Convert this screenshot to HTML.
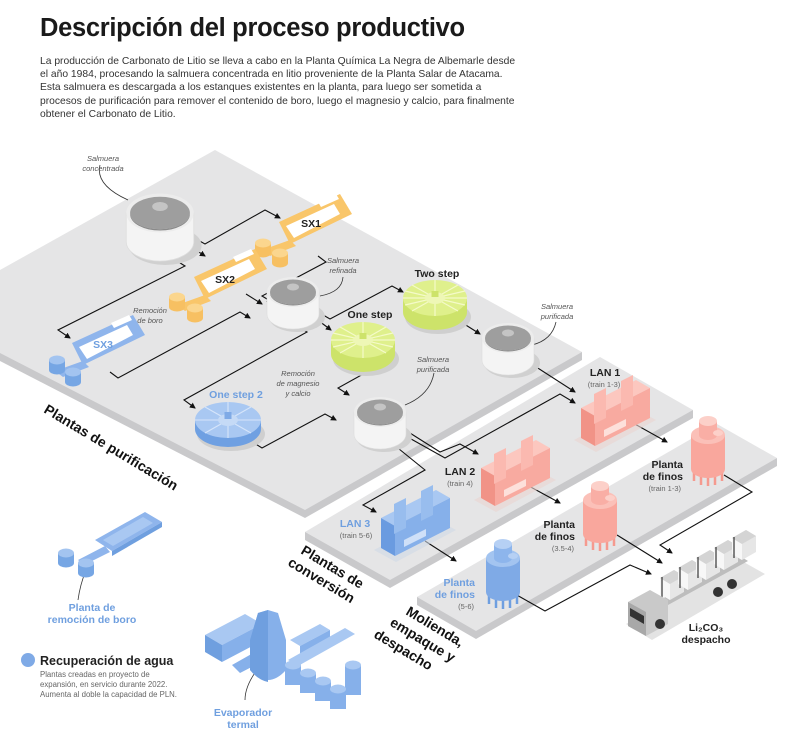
<!DOCTYPE html>
<html><head><meta charset="utf-8"><style>
html,body{margin:0;padding:0;background:#fff;}
body{width:800px;height:748px;overflow:hidden;position:relative;font-family:"Liberation Sans",sans-serif;}
h1{position:absolute;left:40px;top:14px;margin:0;font-size:25.5px;font-weight:bold;color:#1a1a1a;letter-spacing:-0.3px;}
p.intro{position:absolute;left:40px;top:55px;margin:0;width:480px;font-size:10.3px;line-height:13.2px;color:#333;}
svg{position:absolute;left:0;top:0;}
</style></head><body>
<svg width="800" height="748" viewBox="0 0 800 748" font-family="Liberation Sans, sans-serif">
<defs>
<marker id="ar" markerWidth="6" markerHeight="6" refX="5" refY="3" orient="auto" markerUnits="userSpaceOnUse"><path d="M0,0 L6,3 L0,6 Z" fill="#111"/></marker>
<g id="tank">
 <ellipse cx="4" cy="25" rx="28" ry="15" fill="#d0d0d0"/>
 <path d="M-26,0 L-26,22 A26 15 0 0 0 26,22 L26,0 Z" fill="#f4f4f4" stroke="#ddd" stroke-width="0.6"/>
 <ellipse cx="0" cy="0" rx="26" ry="15" fill="#ececec"/>
 <ellipse cx="0" cy="0" rx="23" ry="12.5" fill="#9e9e9e"/>
 <path d="M-23,1 A23 12.5 0 0 0 23,1 L23,0 A23 12.5 0 0 1 -23,0Z" fill="#8a8a8a"/>
 <ellipse cx="0" cy="-5" rx="6" ry="3.5" fill="#c4c4c4"/>
</g>
<g id="discG">
 <ellipse cx="3" cy="19" rx="33" ry="17" fill="#cfcfcf"/>
 <path d="M-32,0 L-32,14 A32 18 0 0 0 32,14 L32,0 Z" fill="#cde36a"/>
 <ellipse cx="0" cy="0" rx="32" ry="18" fill="#dff08c"/>
 <g stroke="#f4fac9" stroke-width="1.2"><line x1="-32" y1="0" x2="32" y2="0"/><line x1="0" y1="-18" x2="0" y2="18"/><line x1="-23" y1="-13" x2="23" y2="13"/><line x1="23" y1="-13" x2="-23" y2="13"/><line x1="-30" y1="-7" x2="30" y2="7"/><line x1="30" y1="-7" x2="-30" y2="7"/></g>
 <ellipse cx="0" cy="0" rx="10" ry="6" fill="#eef7b6"/>
 <rect x="-3.5" y="-7" width="7" height="6" fill="#cde36a"/>
</g>
<g id="lanP">
 <path d="M-2,54 L58,22 L80,34 L20,66 Z" fill="#e9d3d0" opacity="0.6"/>
 <path d="M5,22 L60,-6 L74,2 L19,30 Z" fill="#fcc7bf"/>
 <path d="M19,30 L74,2 L74,32 L19,60 Z" fill="#f8aaa0"/>
 <path d="M5,22 L19,30 L19,60 L5,52 Z" fill="#f19387"/>
 <path d="M18,8 L30,2 L30,32 L18,38Z M45,-5 L57,-11 L57,19 L45,25Z" fill="#fbb9b0"/>
 <path d="M28,44 L50,33 L50,40 L28,51Z" fill="#fde0db"/>
</g>
<g id="lanB">
 <path d="M-2,54 L58,22 L80,34 L20,66 Z" fill="#cfd8e6" opacity="0.6"/>
 <path d="M5,22 L60,-6 L74,2 L19,30 Z" fill="#a9c8f2"/>
 <path d="M19,30 L74,2 L74,32 L19,60 Z" fill="#86b0ea"/>
 <path d="M5,22 L19,30 L19,60 L5,52 Z" fill="#6a9be0"/>
 <path d="M18,8 L30,2 L30,32 L18,38Z M45,-5 L57,-11 L57,19 L45,25Z" fill="#98bdee"/>
 <path d="M28,44 L50,33 L50,40 L28,51Z" fill="#cfe0f8"/>
</g>
<g id="finP">
 <g stroke="#f59a8f" stroke-width="2.5"><line x1="-14" y1="36" x2="-14" y2="46"/><line x1="-7" y1="40" x2="-7" y2="50"/><line x1="0" y1="41" x2="0" y2="51"/><line x1="7" y1="40" x2="7" y2="50"/><line x1="14" y1="36" x2="14" y2="46"/></g>
 <path d="M-17,0 L-17,34 A17 9 0 0 0 17,34 L17,0 Z" fill="#f9a79d"/>
 <ellipse cx="0" cy="0" rx="17" ry="9" fill="#fbc0b8"/>
 <path d="M-9,-14 L-9,0 A9 5 0 0 0 9,0 L9,-14Z" fill="#f9aea5"/>
 <ellipse cx="0" cy="-14" rx="9" ry="5" fill="#fcd0c9"/>
 <ellipse cx="10" cy="-2" rx="5" ry="3" fill="#fcd0c9"/>
</g>
<g id="finB">
 <g stroke="#6f9fe0" stroke-width="2.5"><line x1="-14" y1="36" x2="-14" y2="46"/><line x1="-7" y1="40" x2="-7" y2="50"/><line x1="0" y1="41" x2="0" y2="51"/><line x1="7" y1="40" x2="7" y2="50"/><line x1="14" y1="36" x2="14" y2="46"/></g>
 <path d="M-17,0 L-17,34 A17 9 0 0 0 17,34 L17,0 Z" fill="#7faae6"/>
 <ellipse cx="0" cy="0" rx="17" ry="9" fill="#a3c4f0"/>
 <path d="M-9,-14 L-9,0 A9 5 0 0 0 9,0 L9,-14Z" fill="#8db5ec"/>
 <ellipse cx="0" cy="-14" rx="9" ry="5" fill="#b6d0f4"/>
 <ellipse cx="10" cy="-2" rx="5" ry="3" fill="#b6d0f4"/>
</g>
<g id="cylO"><path d="M-8,0 L-8,10 A8 4.5 0 0 0 8,10 L8,0Z" fill="#f7c062"/><ellipse cx="0" cy="0" rx="8" ry="4.5" fill="#fbd68e"/></g>
<g id="cylB"><path d="M-8,0 L-8,10 A8 4.5 0 0 0 8,10 L8,0Z" fill="#76a6e4"/><ellipse cx="0" cy="0" rx="8" ry="4.5" fill="#a3c4f0"/></g>
<g id="cont"><path d="M0,0 L14,-8 L24,-2 L24,14 L10,22 L0,16Z" fill="#e6e6e6"/><path d="M0,0 L10,6 L10,22 L0,16Z" fill="#f7f7f7"/><path d="M0,0 L14,-8 L24,-2 L10,6Z" fill="#d4d4d4"/><path d="M2,-1 L2,20" stroke="#333" stroke-width="1.2"/></g>
</defs>

<!-- platforms -->
<path d="M0,353 L0,361 L305,518 L582,360 L582,352 Z" fill="#c9c9cb"/>
<path d="M215,150 L582,352 L305,510 L0,353 L0,270 Z" fill="#e5e5e6"/>
<path d="M305,532 L305,540 L390,588 L693,418 L693,410 Z" fill="#c9c9cb"/>
<path d="M600,357 L693,410 L390,580 L305,532 Z" fill="#e5e5e6"/>
<path d="M417,597 L417,605 L476,639 L777,466 L777,458 Z" fill="#c9c9cb"/>
<path d="M717,424 L777,458 L476,631 L417,597 Z" fill="#e5e5e6"/>

<!-- connectors -->
<g fill="none" stroke="#111" stroke-width="1.1">
<path d="M187,234 L205,244 L265,210 L280,218" marker-end="url(#ar)"/>
<path d="M180,240 L205,256" marker-end="url(#ar)"/>
<path d="M172,258 L185,266 L58,330 L70,338" marker-end="url(#ar)"/>
<path d="M318,256 L326,262 L262,296 L272,302" marker-end="url(#ar)"/>
<path d="M246,294 L262,304" marker-end="url(#ar)"/>
<path d="M110,372 L118,378 L240,312 L250,318" marker-end="url(#ar)"/>
<path d="M318,312 L330,319 L392,286 L403,292" marker-end="url(#ar)"/>
<path d="M315,318 L331,330" marker-end="url(#ar)"/>
<path d="M300,328 L307,332 L184,400 L195,408" marker-end="url(#ar)"/>
<path d="M386,352 L394,357 L338,388 L349,395" marker-end="url(#ar)"/>
<path d="M254,443 L262,448 L325,414 L336,420" marker-end="url(#ar)"/>
<path d="M461,322 L480,334" marker-end="url(#ar)"/>
<path d="M530,363 L575,392" marker-end="url(#ar)"/>
<path d="M395,430 L445,458 L560,394 L575,403" marker-end="url(#ar)"/>
<path d="M402,428 L440,452 L460,444 L478,454" marker-end="url(#ar)"/>
<path d="M383,436 L425,470 L363,505 L376,512" marker-end="url(#ar)"/>
<path d="M633,423 L667,442" marker-end="url(#ar)"/>
<path d="M527,485 L560,503" marker-end="url(#ar)"/>
<path d="M425,541 L456,561" marker-end="url(#ar)"/>
<path d="M724,475 L752,492 L660,545 L672,553" marker-end="url(#ar)"/>
<path d="M617,535 L662,563" marker-end="url(#ar)"/>
<path d="M515,594 L545,611 L630,565 L651,574" marker-end="url(#ar)"/>
<path d="M100,165 Q95,185 128,200" stroke="#333" stroke-width="0.8"/>
<path d="M343,277 Q342,292 320,296" stroke="#333" stroke-width="0.8"/>
<path d="M556,322 Q552,340 532,345" stroke="#333" stroke-width="0.8"/>
<path d="M434,373 Q430,395 405,405" stroke="#333" stroke-width="0.8"/>
<path d="M78,600 Q80,585 86,570" stroke="#333" stroke-width="0.8"/>
<path d="M245,700 Q245,680 270,655" stroke="#333" stroke-width="0.8"/>
</g>

<g transform="translate(160,213) scale(1.3)"><use href="#tank"/></g>
<use href="#tank" x="293" y="292"/>
<use href="#tank" x="508" y="338"/>
<use href="#tank" x="380" y="412"/>
<use href="#discG" x="435" y="298"/>
<use href="#discG" x="363" y="340"/>
<g transform="translate(228,420)">
 <ellipse cx="3" cy="14" rx="34" ry="17" fill="#cfcfcf"/>
 <path d="M-33,0 L-33,9 A33 18 0 0 0 33,9 L33,0 Z" fill="#6fa0e2"/>
 <ellipse cx="0" cy="0" rx="33" ry="18" fill="#a9c8f2"/>
 <g stroke="#d6e5fa" stroke-width="1.1"><line x1="-33" y1="0" x2="33" y2="0"/><line x1="0" y1="-18" x2="0" y2="18"/><line x1="-23" y1="-13" x2="23" y2="13"/><line x1="23" y1="-13" x2="-23" y2="13"/></g>
 <ellipse cx="0" cy="0" rx="10" ry="6" fill="#c5daf6"/>
 <rect x="-3.5" y="-8" width="7" height="7" fill="#7faae6"/>
</g>

<g>
<path d="M279,222 L340,194 L352,214 L290,244 Z" fill="#f9c66a"/>
<path d="M286,226 L334,204 L340,214 L294,238 Z" fill="#fff"/>
<path d="M318,202 L336,194 L339,199 L321,207Z" fill="#fff"/>
<path d="M262,250 L290,240 L296,246 L270,256Z" fill="#f9c66a"/>
</g>
<use href="#cylO" x="263" y="243"/><use href="#cylO" x="280" y="253"/>
<g transform="translate(-85,55)"><path d="M279,222 L340,194 L352,214 L290,244 Z" fill="#f9c66a"/><path d="M286,226 L334,204 L340,214 L294,238 Z" fill="#fff"/><path d="M318,202 L336,194 L339,199 L321,207Z" fill="#fff"/><path d="M262,250 L290,240 L296,246 L270,256Z" fill="#f9c66a"/></g>
<use href="#cylO" x="177" y="297"/><use href="#cylO" x="195" y="308"/>
<g transform="translate(-207,121)"><path d="M279,222 L340,194 L352,214 L290,244 Z" fill="#8fb5ec"/><path d="M286,226 L334,204 L340,214 L294,238 Z" fill="#fff"/><path d="M318,202 L336,194 L339,199 L321,207Z" fill="#fff"/><path d="M262,250 L290,240 L296,246 L270,256Z" fill="#8fb5ec"/></g>
<use href="#cylB" x="57" y="360"/><use href="#cylB" x="73" y="372"/>

<use href="#lanP" x="576" y="386"/>
<use href="#lanP" x="476" y="446"/>
<use href="#lanB" x="376" y="496"/>
<use href="#finP" x="708" y="435"/>
<use href="#finP" x="600" y="500"/>
<use href="#finB" x="503" y="558"/>

<!-- truck -->
<g>
<path d="M626,624 L740,560 L765,574 L652,640Z" fill="#e3e3e3"/>
<path d="M660,600 L740,556 L748,561 L668,605Z" fill="#bdbdbd"/>
<use href="#cont" x="660" y="578"/>
<use href="#cont" x="678" y="568"/>
<use href="#cont" x="696" y="558"/>
<use href="#cont" x="714" y="548"/>
<use href="#cont" x="732" y="538"/>
<path d="M628,602 L650,590 L668,600 L668,624 L646,636 L628,626Z" fill="#c9c9c9"/>
<path d="M628,602 L646,612 L646,636 L628,626Z" fill="#a8a8a8"/>
<path d="M630,608 L644,616 L644,624 L630,616Z" fill="#333"/>
<circle cx="660" cy="624" r="5" fill="#333"/><circle cx="718" cy="592" r="5" fill="#333"/><circle cx="732" cy="584" r="5" fill="#333"/>
</g>

<g>
<path d="M95,540 L145,512 L162,522 L112,551 Z" fill="#8fb5ec"/>
<path d="M103,540 L143,517 L153,523 L113,546 Z" fill="#a9c8f2"/>
<path d="M112,551 L162,522 L162,527 L112,556Z" fill="#6f9fdf"/>
<path d="M78,560 L105,546 L110,552 L84,565Z" fill="#8fb5ec"/>
</g>
<use href="#cylB" x="66" y="553"/><use href="#cylB" x="86" y="563"/>

<g>
<path d="M205,635 L245,614 L262,624 L222,645Z" fill="#a9c8f2"/><path d="M205,635 L222,645 L222,662 L205,652Z" fill="#6f9fdf"/><path d="M222,645 L262,624 L262,641 L222,662Z" fill="#86b0ea"/>
<path d="M290,640 L320,624 L330,630 L300,646Z" fill="#a9c8f2"/><path d="M300,646 L330,630 L330,643 L300,659Z" fill="#86b0ea"/>
<path d="M288,660 L345,628 L355,634 L298,666Z" fill="#a9c8f2"/>
<path d="M232,665 L255,652 L265,660 L240,673Z" fill="#86b0ea"/>
<path d="M250,640 L258,613 L268,610 L278,613 L286,640 L286,670 Q268,690 250,670Z" fill="#86b0ea"/>
<path d="M250,640 L258,613 L268,610 L268,682 Q258,680 250,670Z" fill="#6f9fdf"/>
<g fill="#86b0ea"><rect x="285" y="665" width="16" height="20"/><rect x="300" y="673" width="16" height="20"/><rect x="315" y="681" width="16" height="20"/><rect x="330" y="689" width="16" height="20"/><rect x="345" y="665" width="16" height="30"/></g>
<g fill="#a9c8f2"><ellipse cx="293" cy="665" rx="8" ry="4.5"/><ellipse cx="308" cy="673" rx="8" ry="4.5"/><ellipse cx="323" cy="681" rx="8" ry="4.5"/><ellipse cx="338" cy="689" rx="8" ry="4.5"/><ellipse cx="353" cy="665" rx="8" ry="4.5"/></g>
</g>

<g font-style="italic" font-size="7.5" fill="#555" text-anchor="middle">
<text x="103" y="161">Salmuera</text><text x="103" y="171">concentrada</text>
<text x="343" y="263">Salmuera</text><text x="343" y="273">refinada</text>
<text x="150" y="313">Remoción</text><text x="150" y="323">de boro</text>
<text x="557" y="309">Salmuera</text><text x="557" y="319">purificada</text>
<text x="298" y="376">Remoción</text><text x="298" y="386">de magnesio</text><text x="298" y="396">y calcio</text>
<text x="433" y="362">Salmuera</text><text x="433" y="372">purificada</text>
</g>
<g font-weight="bold" font-size="10.5" text-anchor="middle" fill="#222">
<text x="311" y="227">SX1</text><text x="225" y="283">SX2</text><text x="103" y="348" fill="#6f9fdf">SX3</text>
<text x="437" y="277">Two step</text><text x="370" y="318">One step</text>
<text x="236" y="398" fill="#6f9fdf">One step 2</text>
<text x="605" y="376">LAN 1</text><text x="460" y="475">LAN 2</text><text x="355" y="527" fill="#6f9fdf">LAN 3</text>
</g>
<g font-size="7.5" fill="#666" text-anchor="middle">
<text x="604" y="387">(train 1-3)</text><text x="460" y="486">(train 4)</text><text x="356" y="538">(train 5-6)</text>
</g>
<g font-weight="bold" font-size="10.5" text-anchor="end" fill="#222">
<text x="683" y="468">Planta</text><text x="683" y="480">de finos</text>
<text x="575" y="528">Planta</text><text x="575" y="540">de finos</text>
<text x="475" y="586" fill="#6f9fdf">Planta</text><text x="475" y="598" fill="#6f9fdf">de finos</text>
</g>
<g font-size="7.5" fill="#666" text-anchor="end">
<text x="681" y="491">(train 1-3)</text><text x="574" y="551">(3.5-4)</text><text x="474" y="609">(5-6)</text>
</g>
<g font-weight="bold" font-size="10.5" text-anchor="middle" fill="#222"><text x="706" y="631">Li₂CO₃</text><text x="706" y="643">despacho</text></g>
<g font-weight="bold" font-size="10.5" text-anchor="middle" fill="#6f9fdf"><text x="92" y="611">Planta de</text><text x="92" y="623">remoción de boro</text><text x="243" y="716">Evaporador</text><text x="243" y="728">termal</text></g>

<g font-weight="bold" font-size="14" fill="#111">
<text transform="translate(43,412) rotate(31)">Plantas de purificación</text>
<text transform="translate(300,553) rotate(31)">Plantas de</text>
<text transform="translate(287,565) rotate(31)">conversión</text>
<text transform="translate(405,614) rotate(31)">Molienda,</text>
<text transform="translate(389,625) rotate(31)">empaque y</text>
<text transform="translate(373,637) rotate(31)">despacho</text>
</g>

<circle cx="28" cy="660" r="7" fill="#7faae6"/>
<text x="40" y="665" font-weight="bold" font-size="12.5" fill="#222">Recuperación de agua</text>
<g font-size="7.8" fill="#666"><text x="40" y="677">Plantas creadas en proyecto de</text><text x="40" y="687">expansión, en servicio durante 2022.</text><text x="40" y="697">Aumenta al doble la capacidad de PLN.</text></g>
</svg>
<h1>Descripción del proceso productivo</h1>
<p class="intro">La producción de Carbonato de Litio se lleva a cabo en la Planta Química La Negra de Albemarle desde el año 1984, procesando la salmuera concentrada en litio proveniente de la Planta Salar de Atacama. Esta salmuera es descargada a los estanques existentes en la planta, para luego ser sometida a procesos de purificación para remover el contenido de boro, luego el magnesio y calcio, para finalmente obtener el Carbonato de Litio.</p>
</body></html>
